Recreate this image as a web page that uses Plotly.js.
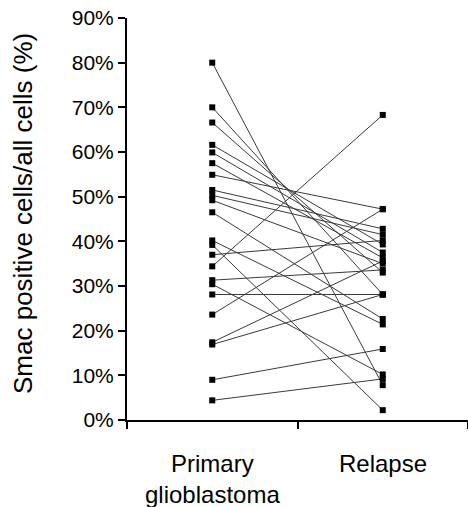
<!DOCTYPE html>
<html>
<head>
<meta charset="utf-8">
<script src="https://cdn.plot.ly/plotly-3.0.1.min.js"></script>
<style>
  html, body { margin: 0; padding: 0; background: #fff; }
  #chart { width: 468px; height: 507px; }
</style>
</head>
<body>
<div id="chart"></div>
<script>
// Categories (x axis)
var categories = ["Primary", "Relapse"];
var categoryLabels = ["Primary<br>glioblastoma", "Relapse"];
// Paired values (%), primary[i] is matched with relapse[i]
var primary = [80, 70, 66.6, 61.6, 59.9, 57.5, 54.9, 51.5, 50.3, 49.2, 46.5, 40.2, 39.2, 37.0, 34.4, 31.3, 30.4, 28.1, 23.6, 17.4, 16.9, 9.0, 4.4];
var relapse = [7.8, 28.1, 33.0, 39.3, 37.5, 36.3, 47.2, 42.8, 41.5, 35.0, 22.6, 21.4, 2.2, 40.2, 68.3, 33.6, 10.2, 28.1, 47.2, 35.6, 28.1, 15.9, 9.2];
// Y tick values (%)
var yTicks = [0, 10, 20, 30, 40, 50, 60, 70, 80, 90];
var yTitle = "Smac positive cells/all cells (%)";

var traces = [];
for (var i = 0; i < primary.length; i++) {
  traces.push({
    type: "scatter",
    mode: "lines+markers",
    x: categories,
    y: [primary[i], relapse[i]],
    line: { color: "#3a3a3a", width: 1 },
    marker: { symbol: "square", size: 6, color: "#000" },
    hoverinfo: "y",
    showlegend: false,
    cliponaxis: false
  });
}

var font = "Liberation Sans, Arial, sans-serif";
var layout = {
  width: 468,
  height: 507,
  margin: { l: 127, r: 0, t: 18, b: 86.5 },
  paper_bgcolor: "#fff",
  plot_bgcolor: "#fff",
  showlegend: false,
  xaxis: {
    type: "category",
    categoryarray: categories,
    range: [-0.5, 1.5],
    tickson: "boundaries",
    ticks: "outside",
    ticklen: 7,
    tickwidth: 2,
    tickcolor: "#000",
    showticklabels: false,
    showline: true,
    linecolor: "#000",
    linewidth: 2,
    showgrid: false,
    zeroline: false,
    fixedrange: true
  },
  yaxis: {
    range: [0, 90],
    tickvals: yTicks,
    ticktext: yTicks.map(function (v) { return v + "%"; }),
    ticks: "outside",
    ticklen: 7,
    tickwidth: 2,
    tickcolor: "#000",
    tickfont: { family: font, size: 21, color: "#000" },
    showline: true,
    linecolor: "#000",
    linewidth: 2,
    showgrid: false,
    zeroline: false,
    fixedrange: true
  },
  annotations: [
    {
      text: yTitle,
      textangle: -90,
      xref: "paper", yref: "paper",
      x: 0, y: 0.5,
      xanchor: "center", yanchor: "middle",
      xshift: -104, yshift: 5,
      showarrow: false,
      font: { family: font, size: 26, color: "#000" }
    }
  ].concat(categories.map(function (c, k) {
    return {
      text: categoryLabels[k],
      xref: "x", yref: "paper",
      x: c, y: 0,
      xanchor: "center", yanchor: "top",
      yshift: -28,
      showarrow: false,
      font: { family: font, size: 24, color: "#000" }
    };
  }))
};

Plotly.newPlot("chart", traces, layout, { displayModeBar: false, staticPlot: true });
</script>
</body>
</html>
